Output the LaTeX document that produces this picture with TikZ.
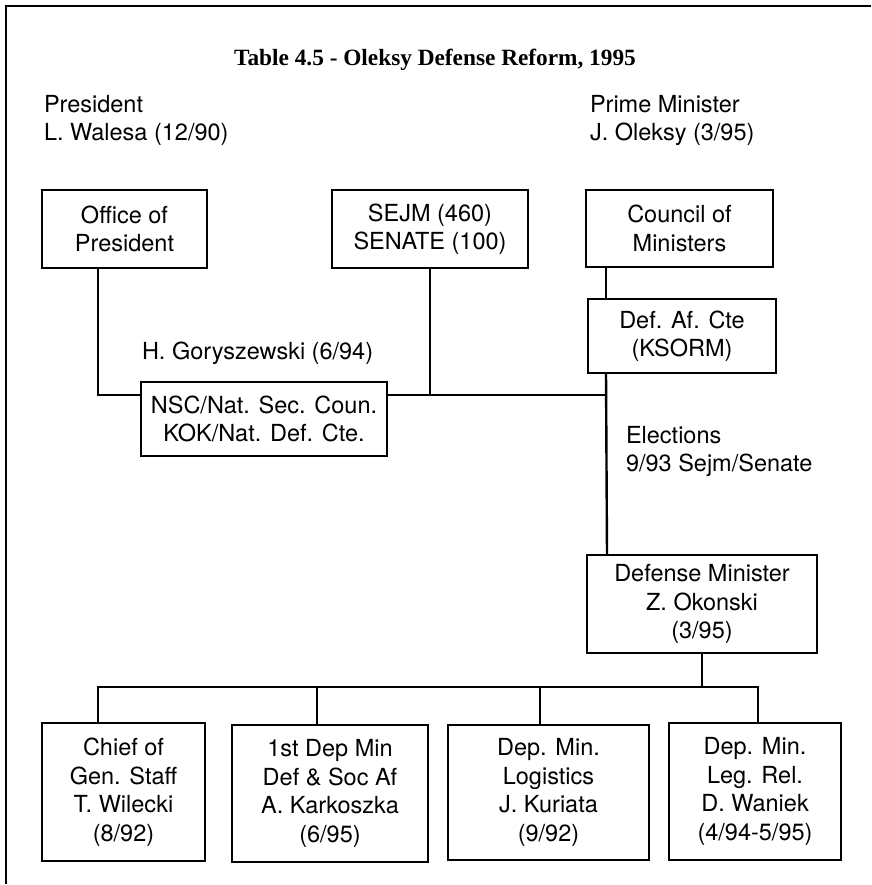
\documentclass[tikz,border=0pt]{standalone}
\usepackage{fontspec}
\setmainfont{TeX Gyre Heros}
\newfontfamily\titlefont{Liberation Serif}
\begin{document}
\begin{tikzpicture}[x=1pt,y=-1pt,
  every node/.style={inner sep=0pt, outer sep=0pt,
    font=\fontsize{23.5}{28.5}\selectfont},
  orgbox/.style={draw, line width=2.8pt, align=center},
  link/.style={line width=2.4pt},
  frame/.style={line width=2.8pt},
  caption/.style={align=left, anchor=north west}]
\useasboundingbox (0,0) rectangle (871,885);

% outer frame: top and left edges only
\draw[frame] (6,884) -- (6,6) -- (871,6);

% title
\node[anchor=base, font=\titlefont\bfseries\fontsize{23.3}{28}\selectfont] (title) at (435,66)
  {Table 4.5 - Oleksy Defense Reform, 1995};

% heads of state and government
\node[caption] (pres) at (44,95) {President\\L. Walesa (12/90)};
\node[caption] (pm) at (590,95) {Prime Minister\\J. Oleksy (3/95)};

% upper tier
\node[orgbox, minimum width=165pt, minimum height=78pt] (off) at (124.5,229) {Office of\\President};
\node[orgbox, minimum width=196pt, minimum height=78pt] (sejm) at (430,229) {SEJM (460)\\SENATE (100)};
\node[orgbox, minimum width=187pt, minimum height=77pt] (council) at (679.5,228.5) {Council of\\Ministers};
\node[orgbox, minimum width=188pt, minimum height=74pt] (defaf) at (682,336) {Def. Af. Cte\\(KSORM)};
\node[orgbox, minimum width=246pt, minimum height=74pt] (nsc) at (264,419) {NSC/Nat. Sec. Coun.\\KOK/Nat. Def. Cte.};

\node[anchor=base west] (gory) at (142,359) {H. Goryszewski (6/94)};
\node[caption] (elect) at (626,426) {Elections\\9/93 Sejm/Senate};

% defence minister and deputies
\node[orgbox, minimum width=230pt, minimum height=98pt] (dm) at (702,604) {Defense Minister\\Z. Okonski\\(3/95)};
\node[orgbox, minimum width=163pt, minimum height=138pt] (b1) at (123.5,792) {Chief of\\Gen. Staff\\T. Wilecki\\(8/92)};
\node[orgbox, minimum width=196pt, minimum height=137pt] (b2) at (330,793.5) {1st Dep Min\\Def \& Soc Af\\A. Karkoszka\\(6/95)};
\node[orgbox, minimum width=201pt, minimum height=135pt] (b3) at (548.5,792.5) {Dep. Min.\\Logistics\\J. Kuriata\\(9/92)};
\node[orgbox, minimum width=172pt, minimum height=137pt] (b4) at (755,791.5) {Dep. Min.\\Leg. Rel.\\D. Waniek\\(4/94-5/95)};

% junction points
\coordinate (spine) at (606,395);
\coordinate (bus) at (0,687);
\coordinate (nscL) at ([yshift=24pt]nsc.west);
\coordinate (nscR) at ([yshift=24pt]nsc.east);
\coordinate (offS) at ([xshift=-26.5pt]off.south);
\coordinate (cmS) at ([xshift=-73.5pt]council.south);
\coordinate (dfN) at ([xshift=-76pt]defaf.north);
\coordinate (dfS) at ([xshift=-76pt]defaf.south);
\coordinate (dmN) at ([xshift=-95pt]dm.north);
\coordinate (d1) at ([xshift=-25.5pt]b1.north);
\coordinate (d2) at ([xshift=-13pt]b2.north);
\coordinate (d3) at ([xshift=-8.5pt]b3.north);
\coordinate (d4) at ([xshift=3pt]b4.north);

% upper connectors
\draw[link] (offS) |- (nscL);
\draw[link] (nscR) -- (spine);
\draw[link] (sejm.south) -- (sejm.south |- spine);
\draw[link] (cmS) -- (dfN);
\draw[link] (dfS) -- (dmN);

% lower connectors
\draw[link] (dm.south) -- (dm.south |- bus);
\draw[link] (d1) |- (d4 |- bus) -- (d4);
\draw[link] (d2) -- (d2 |- bus);
\draw[link] (d3) -- (d3 |- bus);
\end{tikzpicture}
\end{document}
